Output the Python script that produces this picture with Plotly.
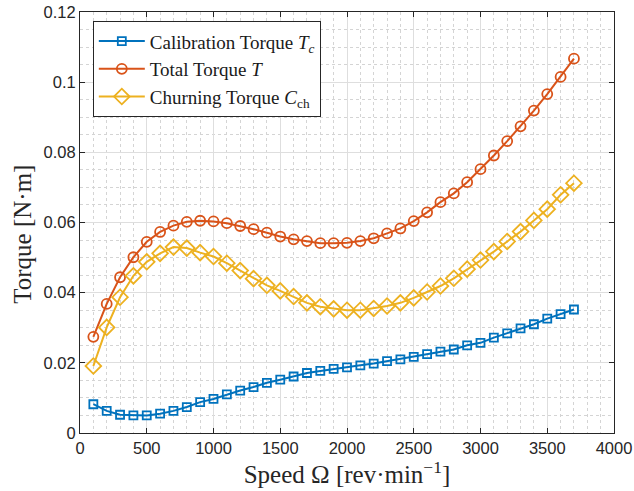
import plotly.graph_objects as go

speed = [100, 200, 300, 400, 500, 600, 700, 800, 900, 1000, 1100, 1200, 1300, 1400, 1500,
         1600, 1700, 1800, 1900, 2000, 2100, 2200, 2300, 2400, 2500, 2600, 2700, 2800, 2900,
         3000, 3100, 3200, 3300, 3400, 3500, 3600, 3700]

calibration = [0.0082, 0.0063, 0.0052, 0.0050, 0.0050, 0.0055, 0.0063, 0.0074, 0.0088, 0.0097,
               0.0110, 0.0121, 0.0131, 0.0143, 0.0152, 0.0161, 0.0171, 0.0177, 0.0183, 0.0187,
               0.0193, 0.0198, 0.0205, 0.0210, 0.0217, 0.0225, 0.0232, 0.0238, 0.0250, 0.0257,
               0.0272, 0.0284, 0.0298, 0.0310, 0.0326, 0.0339, 0.0352]

total = [0.0274, 0.0368, 0.0444, 0.0501, 0.0545, 0.0573, 0.0591, 0.0602, 0.0605, 0.0603,
         0.0598, 0.0590, 0.0581, 0.0571, 0.0560, 0.0552, 0.0547, 0.0541, 0.0541, 0.0542,
         0.0547, 0.0555, 0.0569, 0.0583, 0.0604, 0.0629, 0.0658, 0.0683, 0.0715, 0.0752,
         0.0791, 0.0832, 0.0874, 0.0919, 0.0966, 0.1015, 0.1067]

churning = [0.0191, 0.0301, 0.0387, 0.0448, 0.0488, 0.0512, 0.0530, 0.0527, 0.0514, 0.0503,
            0.0484, 0.0463, 0.0440, 0.0421, 0.0405, 0.0389, 0.0371, 0.0360, 0.0354, 0.0350,
            0.0350, 0.0355, 0.0362, 0.0371, 0.0385, 0.0402, 0.0419, 0.0441, 0.0467, 0.0493,
            0.0517, 0.0546, 0.0574, 0.0606, 0.0638, 0.0679, 0.0712]

x_ticks = [0, 500, 1000, 1500, 2000, 2500, 3000, 3500, 4000]
y_ticks = [0, 0.02, 0.04, 0.06, 0.08, 0.1, 0.12]
y_ticktext = ["0", "0.02", "0.04", "0.06", "0.08", "0.1", "0.12"]

series = [
    ("Calibration Torque <i>T</i><sub><i>c</i></sub>", calibration, "#0072BD", "square-open", 8),
    ("Total Torque <i>T</i>", total, "#D95319", "circle-open", 10),
    ("Churning Torque <i>C</i><sub>ch</sub>", churning, "#EDB120", "diamond-open", 12),
]

fig = go.Figure()
for name, vals, color, sym, size in series:
    fig.add_trace(go.Scatter(
        x=speed, y=vals, name=name, mode="lines+markers",
        line=dict(color=color, width=2),
        marker=dict(symbol=sym, size=size, color=color, line=dict(color=color, width=1.8)),
    ))

serif = "Liberation Serif, Times New Roman, serif"

axis_common = dict(
    showline=True, linecolor="#262626", linewidth=1, mirror="allticks",
    ticks="inside", ticklen=5, tickcolor="#262626",
    showgrid=True, gridcolor="#dedede", gridwidth=1, zeroline=False,
    automargin=False,
    tickfont=dict(family="Liberation Sans, Arial, sans-serif", size=16.5, color="#262626"),
)

fig.update_xaxes(
    range=[0, 4000], tickvals=x_ticks,
    title=dict(text="Speed Ω [rev·min<sup>−1</sup>]", standoff=2,
               font=dict(family=serif, size=25, color="#262626")),
    minor=dict(dtick=100, showgrid=True, griddash="dot", gridcolor="#d4d4d4", gridwidth=1, ticks=""),
    **axis_common,
)
fig.update_yaxes(
    range=[0, 0.12], tickvals=y_ticks, ticktext=y_ticktext,
    minor=dict(dtick=0.005, showgrid=True, griddash="dot", gridcolor="#d4d4d4", gridwidth=1, ticks=""),
    **axis_common,
)

fig.add_annotation(
    text="Torque [N·m]", textangle=-90, showarrow=False,
    xref="paper", yref="paper", x=-0.107, y=0.473, xanchor="center", yanchor="middle",
    font=dict(family=serif, size=25, color="#262626"),
)

fig.update_layout(
    width=634, height=491,
    margin=dict(l=80, r=20, t=12, b=58),
    paper_bgcolor="white", plot_bgcolor="white",
    showlegend=True,
    legend=dict(
        x=0.024, y=0.978, xanchor="left", yanchor="top",
        bgcolor="white", bordercolor="#262626", borderwidth=1,
        font=dict(family=serif, size=19, color="#1a1a1a"),
        tracegroupgap=0, itemwidth=46,
    ),
)

fig.write_html("out.html", config={"displayModeBar": False},
               post_script="document.body.style.margin='0';document.body.style.padding='0';")
